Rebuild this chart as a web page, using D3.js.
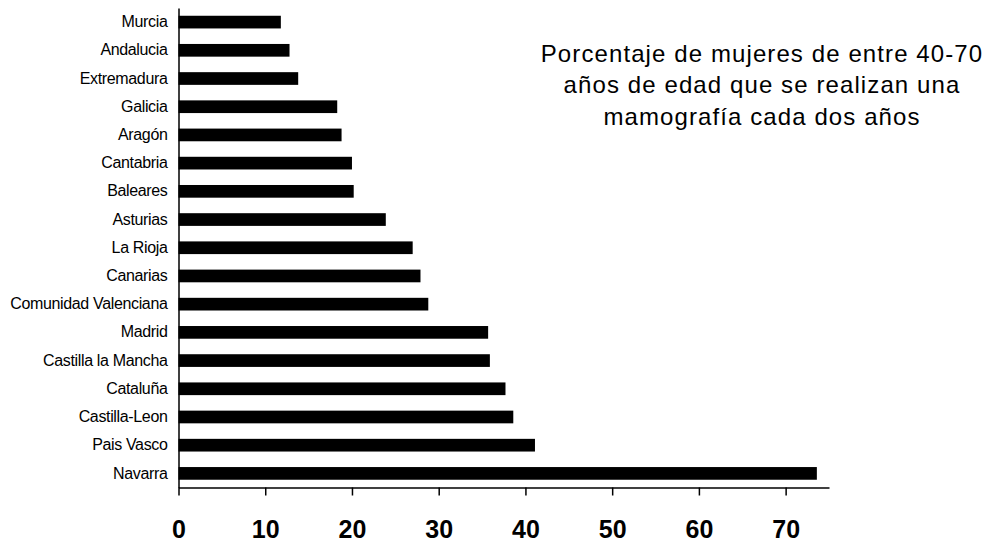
<!DOCTYPE html>
<html><head><meta charset="utf-8">
<script src="https://cdn.jsdelivr.net/npm/d3@7"></script>
<style>body{margin:0;background:#fff}svg{display:block}</style>
</head><body>
<script>
const categories = ["Murcia","Andalucia","Extremadura","Galicia","Aragón","Cantabria","Baleares","Asturias","La Rioja","Canarias","Comunidad Valenciana","Madrid","Castilla la Mancha","Cataluña","Castilla-Leon","Pais Vasco","Navarra"];
const values = [11.8,12.8,13.8,18.3,18.8,20.0,20.2,23.9,27.0,27.9,28.8,35.7,35.9,37.7,38.6,41.1,73.6];
const xTicks = [0,10,20,30,40,50,60,70];
const titleLines = ["Porcentaje de mujeres de entre 40-70","años de edad que se realizan una","mamografía cada dos años"];

const W=990,H=542;
const svg=d3.select("body").append("svg").attr("width",W).attr("height",H);
const x=d3.scaleLinear().domain([0,75]).range([178.5,829]);
const y=d3.scaleBand().domain(categories).range([8,487.5]).paddingInner(0.55).paddingOuter(0.275);

svg.append("g").selectAll("rect").data(values).join("rect")
  .attr("x",x(0)).attr("y",(d,i)=>y(categories[i]))
  .attr("width",d=>x(d)-x(0)).attr("height",y.bandwidth()).attr("fill","#000");

// y axis
const ya=svg.append("g").attr("transform",`translate(${x(0)},0)`)
  .call(d3.axisLeft(y).tickSize(0).tickPadding(11));
ya.select(".domain").attr("stroke","#000").attr("stroke-width",1.5);
ya.selectAll("text").attr("font-family","Liberation Sans, Arial, sans-serif").attr("font-size",16).attr("letter-spacing","-0.35px").attr("fill","#000");

// x axis
const xa=svg.append("g").attr("transform",`translate(0,${y.range()[1]})`)
  .call(d3.axisBottom(x).tickValues(xTicks).tickSize(8).tickPadding(25).tickSizeOuter(0));
xa.select(".domain").attr("stroke","#000").attr("stroke-width",1.5);
xa.selectAll(".tick line").attr("stroke","#000").attr("stroke-width",1.5);
xa.selectAll("text").attr("font-family","Liberation Sans, Arial, sans-serif").attr("font-size",25).attr("font-weight","bold").attr("fill","#000");

svg.append("g").selectAll("text").data(titleLines).join("text")
  .attr("x",762).attr("y",(d,i)=>61.5+i*31.7).attr("text-anchor","middle")
  .attr("font-family","Liberation Sans, Arial, sans-serif").attr("font-size",24).attr("letter-spacing","1.1px").attr("fill","#000")
  .text(d=>d);
</script>
</body></html>
